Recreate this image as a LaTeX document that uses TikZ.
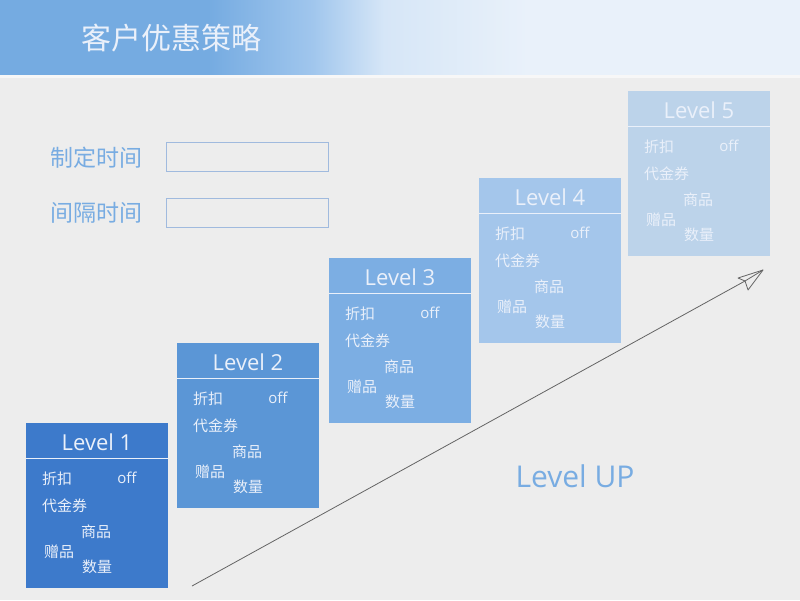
\documentclass[tikz,border=0pt]{standalone}
\usepackage{fontspec}
\setmainfont{Open Sans}
\newfontfamily\cjk{Noto Sans CJK SC}
\usetikzlibrary{positioning}
\definecolor{pagebg}{RGB}{237,237,237}
\definecolor{hdrA}{RGB}{117,171,225}
\definecolor{hdrB}{RGB}{160,198,237}
\definecolor{hdrC}{RGB}{214,230,247}
\definecolor{hdrD}{RGB}{233,241,250}
\definecolor{lvA}{RGB}{61,122,203}
\definecolor{lvB}{RGB}{91,150,214}
\definecolor{lvC}{RGB}{124,174,227}
\definecolor{lvD}{RGB}{164,198,235}
\definecolor{lvE}{RGB}{188,211,234}
\definecolor{lvtext}{RGB}{234,240,250}
\definecolor{labelblue}{RGB}{120,172,226}
\definecolor{boxline}{RGB}{160,186,222}
\definecolor{linegray}{RGB}{100,100,100}
\pgfdeclarehorizontalshading{hdrshade}{100bp}{color(0bp)=(hdrA); color(38bp)=(hdrA);
  color(44.5bp)=(hdrB); color(49bp)=(hdrC); color(58bp)=(hdrD); color(100bp)=(hdrD)}
\tikzset{
	lvbox/.style={rectangle, draw=none, minimum width=142pt, minimum height=165pt,
		anchor=north west, inner sep=0pt},
	lvtitle/.style={font=\fontsize{22}{24}\selectfont, text=lvtext, inner sep=0pt},
	sepline/.style={draw=lvtext, line width=0.8pt},
	item/.style={font=\cjk\fontsize{15}{16}\selectfont, text=lvtext, inner sep=0pt},
	offtext/.style={font=\fontsize{15}{16}\selectfont, text=lvtext, inner sep=0pt},
	timelabel/.style={font=\cjk\fontsize{23}{25}\selectfont, text=labelblue,
		inner sep=0pt, anchor=west},
	timebox/.style={rectangle, draw=boxline, line width=0.8pt, minimum width=162pt,
		minimum height=29pt, anchor=north west, inner sep=0pt},
	upline/.style={draw=linegray, line width=0.8pt, line join=round}
}
\begin{document}
\begin{tikzpicture}[x=1pt, y=-1pt]

	%% ---- Page and header ----
	\fill[pagebg] (0,0) rectangle (800,600);
	\useasboundingbox (0,0) rectangle (800,600);
	\shade[shading=hdrshade] (0,0) rectangle (800,75);
	\fill[white!55!pagebg] (0,75) rectangle (800,78);
	\node[font=\cjk\fontsize{30}{32}\selectfont, text=lvtext, inner sep=0pt]
		(title) at (171,38) {客户优惠策略};

	%% ---- Time settings ----
	\node[timelabel] (zdsj) at (50,158) {制定时间};
	\node[timebox]   (zdbox) at (166,142) {};
	\node[timelabel] (gesj) at (50,213) {间隔时间};
	\node[timebox]   (gebox) at (166,198) {};

	%% ---- Level boxes ----
	\foreach \i/\x/\y/\c in {1/26/423/lvA, 2/177/343/lvB, 3/329/258/lvC,
		4/479/178/lvD, 5/628/91/lvE}{
		\node[lvbox, fill=\c] (box\i) at (\x,\y) {};
		\node[lvtitle] (lv\i) at (\x+71,\y+19) {Level \i};
		\draw[sepline] ([yshift=-35pt]box\i.north west) -- ([yshift=-35pt]box\i.north east);
		\node[item, anchor=west] (zk\i)  at (\x+16,\y+56)  {折扣};
		\node[offtext]           (off\i) at (\x+101,\y+55) {off};
		\node[item, anchor=west] (djq\i) at (\x+16,\y+83)  {代金券};
		\node[item]              (sp\i)  at (\x+70,\y+109) {商品};
		\node[item]              (zp\i)  at (\x+33,\y+129) {赠品};
		\node[item]              (sl\i)  at (\x+71,\y+144) {数量};
	}

	%% ---- Level up line and paper plane ----
	\coordinate (upstart) at (192,586);
	\coordinate (fold) at (745,281);
	\coordinate (tip) at (763,270);
	\draw[upline] (upstart) -- (fold);
	\draw[upline] (tip) -- (738,278) -- (fold) -- (748,290) -- cycle;
	\draw[upline] (fold) -- (tip);

	\node[font=\fontsize{30}{32}\selectfont, text=labelblue, inner sep=0pt]
		(lvup) at (575,476) {Level UP};

\end{tikzpicture}
\end{document}
